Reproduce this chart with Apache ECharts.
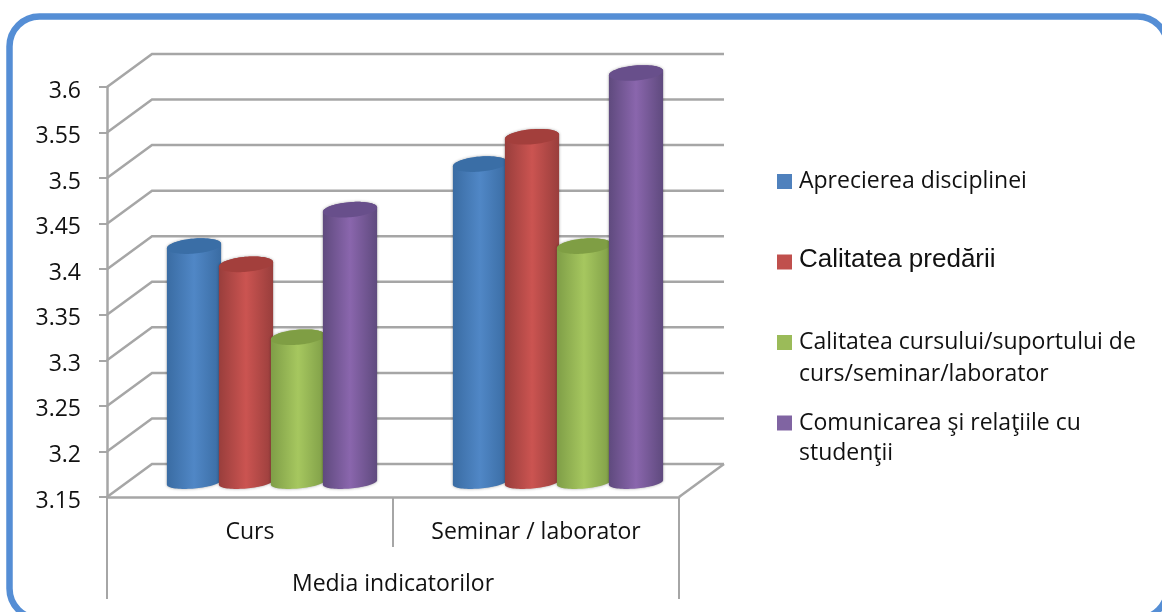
<!DOCTYPE html>
<html>
<head>
<meta charset="utf-8">
<style>html,body{margin:0;padding:0;background:#fff}#main{width:1162px;height:612px}</style>
<script src="https://cdn.jsdelivr.net/npm/echarts@6/dist/echarts.min.js"></script>
</head>
<body>
<div id="main"></div>
<script>
var categories = ['Curs', 'Seminar / laborator'];
var groupLabel = ['Media indicatorilor'];
var tickValues = [3.15, 3.2, 3.25, 3.3, 3.35, 3.4, 3.45, 3.5, 3.55, 3.6];
var aprecierea = [3.41, 3.5];
var predare = [3.39, 3.53];
var suport = [3.31, 3.41];
var comunicare = [3.45, 3.6];
var seriesNames = [
    'Aprecierea disciplinei',
    'Calitatea predării',
    'Calitatea cursului/suportului de curs/seminar/laborator',
    'Comunicarea şi relaţiile cu studenţii'
];
// first line stays in the legend, the second one is placed by hand (legend centres multi-line text on the swatch)
var firstLine = ['Aprecierea disciplinei', 'Calitatea predării', 'Calitatea cursului/suportului de', 'Comunicarea şi relaţiile cu'];
var secondLine = ['', '', 'curs/seminar/laborator', 'studenţii'];

var flat = ['#4f81bd', '#c0504d', '#9bbb59', '#8064a2'];
var edge = ['#3a6ca3', '#993e3c', '#7f9e47', '#5f4a7e'];
var mid = ['#5087c6', '#cb5451', '#a6c75f', '#8a66ad'];
var cap = ['#3a6ea6', '#a33f3c', '#7f9e44', '#684f8b'];

var gridGrey = '#a6a6a6';
var font = 'Open Sans';
var depthX = 45, depthY = -33;  // back wall offset
var barDX = 22, barDY = -14;    // cylinders stand half way in the floor
var step = 52, rx = 27.2, ry = 7.5, ryBase = 6, tilt = -5 * Math.PI / 180;

function ellipsePoint(cx, cy, t, r) {
    var c = Math.cos(t) * rx, s = Math.sin(t) * r;
    return [cx + c * Math.cos(tilt) - s * Math.sin(tilt), cy + c * Math.sin(tilt) + s * Math.cos(tilt)];
}

function cylinder(idx) {
    return function (params, api) {
        var top = api.coord([api.value(0), api.value(1)]);
        var base = api.coord([api.value(0), tickValues[0]]);
        var cx = top[0] + barDX + (idx - 1.5) * step;
        var topY = top[1] + barDY, baseY = base[1] + barDY - 0.5;
        var body = [], lid = [];
        var i;
        for (i = 0; i <= 40; i++) {
            body.push(ellipsePoint(cx, baseY, Math.PI - Math.PI * i / 40, ryBase));
        }
        for (i = 0; i <= 40; i++) {
            body.push(ellipsePoint(cx, topY, Math.PI * i / 40 * -1, ry));
        }
        for (i = 0; i < 80; i++) {
            lid.push(ellipsePoint(cx, topY, Math.PI * 2 * i / 80, ry));
        }
        return {
            type: 'group',
            children: [{
                type: 'polygon',
                shape: { points: body },
                style: {
                    fill: new echarts.graphic.LinearGradient(0, 0, 1, 0, [
                        { offset: 0, color: edge[idx] },
                        { offset: 0.5, color: mid[idx] },
                        { offset: 1, color: edge[idx] }
                    ]),
                    shadowBlur: 3,
                    shadowColor: 'rgba(0,0,0,0.35)'
                }
            }, {
                type: 'polygon',
                shape: { points: lid },
                style: { fill: cap[idx] }
            }]
        };
    };
}

// gridlines on the wall and the floor outline, one per tick
function wallLine(params, api) {
    var p = api.coord([0, api.value(0)]);
    var box = params.coordSys;
    var left = box.x, right = box.x + box.width;
    var lineStyle = { stroke: gridGrey, lineWidth: 2.5, fill: null };
    var kids = [{
        type: 'polyline',
        shape: { points: [[left, p[1]], [left + depthX, p[1] + depthY], [right + depthX, p[1] + depthY]] },
        style: lineStyle
    }];
    if (api.value(0) === tickValues[0]) {
        kids.push({
            type: 'line',
            shape: { x1: right, y1: p[1], x2: right + depthX, y2: p[1] + depthY },
            style: lineStyle
        });
    }
    return { type: 'group', children: kids };
}

var myChart = echarts.init(document.getElementById('main'));

var values = [aprecierea, predare, suport, comunicare];
var series = [{
    type: 'custom',
    name: 'wall',
    silent: true,
    renderItem: wallLine,
    encode: { y: 0 },
    data: tickValues.map(function (v) { return [v]; }),
    z: 1
}];
values.forEach(function (list, idx) {
    series.push({
        type: 'custom',
        name: seriesNames[idx],
        itemStyle: { color: flat[idx] },
        renderItem: cylinder(idx),
        encode: { x: 0, y: 1 },
        data: list.map(function (v, c) { return [c, v]; }),
        z: 2 + idx
    });
});

var legendTops = [170, 246.5, 331, 411.5];
var legendLift = [0, 5, 0, 0];  // the larger label sits a little above its swatch
var legends = seriesNames.map(function (name, idx) {
    return {
        data: [name],
        left: 777,
        top: legendTops[idx],
        padding: 0,
        icon: 'rect',
        itemWidth: 15,
        itemHeight: 15,
        selectedMode: false,
        formatter: function () { return '{t|' + firstLine[idx] + '}'; },
        textStyle: {
            rich: {
                t: {
                    fontFamily: idx === 1 ? 'Liberation Sans' : font,
                    fontSize: idx === 1 ? 26 : 23,
                    color: '#111',
                    padding: [0, 0, legendLift[idx], 2]
                }
            }
        }
    };
});

var graphics = [{
    type: 'rect',
    shape: { x: 9.5, y: 16.5, width: 1158, height: 602, r: 30 },
    style: { fill: null, stroke: '#558ed5', lineWidth: 6.5 },
    z: 0,
    silent: true
}];
[[secondLine[2], 379], [secondLine[3], 458]].forEach(function (row) {
    graphics.push({
        type: 'text',
        left: 799,
        top: row[1] - 16,
        style: { text: row[0], fontFamily: font, fontSize: 23, fill: '#111' }
    });
});

option = {
    animation: false,
    backgroundColor: '#fff',
    legend: legends,
    graphic: graphics,
    grid: { left: 107, top: 87, width: 572, height: 410 },
    xAxis: [{
        type: 'category',
        data: categories,
        position: 'bottom',
        axisLine: { lineStyle: { color: gridGrey, width: 2.5 } },
        axisTick: { show: true, length: 50, lineStyle: { color: gridGrey, width: 2 } },
        axisLabel: { margin: 24, fontFamily: font, fontSize: 23, color: '#111', interval: 0 }
    }, {
        type: 'category',
        data: groupLabel,
        position: 'bottom',
        axisLine: { show: false },
        axisTick: { show: true, length: 102, lineStyle: { color: gridGrey, width: 2 } },
        axisLabel: { margin: 76, fontFamily: font, fontSize: 23, color: '#111' }
    }],
    yAxis: {
        type: 'value',
        min: tickValues[0],
        max: tickValues[tickValues.length - 1],
        interval: 0.05,
        axisLine: { show: true, lineStyle: { color: gridGrey, width: 2.5 } },
        axisTick: { show: true, length: 8, lineStyle: { color: gridGrey, width: 2 } },
        splitLine: { show: false },
        axisLabel: {
            margin: 26,
            formatter: function (v) { return '{n|' + (+v.toFixed(2)) + '}'; },
            rich: {
                n: { fontFamily: font, fontSize: 23, color: '#111', padding: [8, 0, 0, 0] }
            }
        }
    },
    series: series
};
myChart.setOption(option);
</script>
</body>
</html>
